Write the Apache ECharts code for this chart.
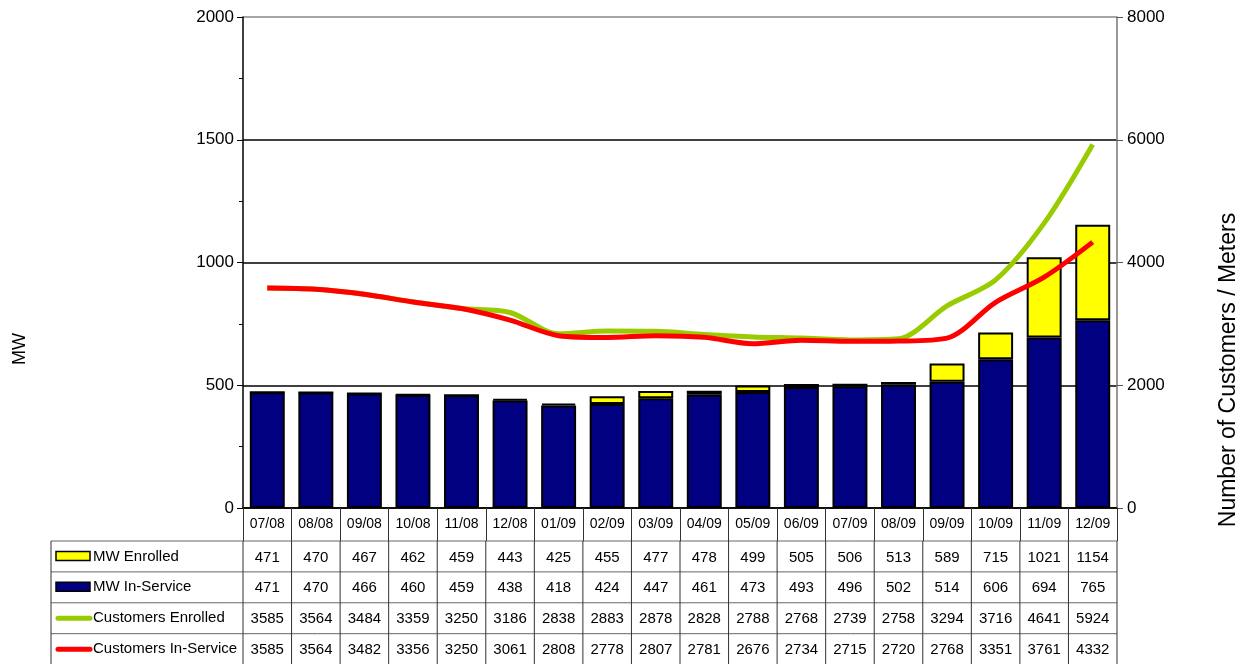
<!DOCTYPE html>
<html>
<head>
<meta charset="utf-8">
<script src="https://cdn.jsdelivr.net/npm/echarts@6/dist/echarts.min.js"></script>
<style>
  html, body { margin: 0; padding: 0; background: #fff; }
  #chart { width: 1251px; height: 664px; }
</style>
</head>
<body>
<div id="chart"></div>
<script>
const categories = ['07/08', '08/08', '09/08', '10/08', '11/08', '12/08', '01/09', '02/09', '03/09',
  '04/09', '05/09', '06/09', '07/09', '08/09', '09/09', '10/09', '11/09', '12/09'];
const mwEnrolled = [471, 470, 467, 462, 459, 443, 425, 455, 477, 478, 499, 505, 506, 513, 589, 715, 1021, 1154];
const mwInService = [471, 470, 466, 460, 459, 438, 418, 424, 447, 461, 473, 493, 496, 502, 514, 606, 694, 765];
const customersEnrolled = [3585, 3564, 3484, 3359, 3250, 3186, 2838, 2883, 2878, 2828, 2788, 2768, 2739, 2758, 3294, 3716, 4641, 5924];
const customersInService = [3585, 3564, 3482, 3356, 3250, 3061, 2808, 2778, 2807, 2781, 2676, 2734, 2715, 2720, 2768, 3351, 3761, 4332];

const FONT = 'Liberation Sans, Arial, sans-serif';
const NAVY = '#000080';
const YELLOW = '#FFFF00';
const GREEN = '#99CC00';
const RED = '#FF0000';

// yellow part of the bar = enrolled above in-service
const mwPending = mwEnrolled.map((v, i) => v - mwInService[i]);

const rows = [
  { label: 'MW Enrolled', values: mwEnrolled, kind: 'box', color: YELLOW },
  { label: 'MW In-Service', values: mwInService, kind: 'box', color: NAVY },
  { label: 'Customers Enrolled', values: customersEnrolled, kind: 'line', color: GREEN },
  { label: 'Customers In-Service', values: customersInService, kind: 'line', color: RED }
];

const chart = echarts.init(document.getElementById('chart'));

const option = {
  animation: false,
  textStyle: { fontFamily: FONT },
  grid: { left: 243, right: 134, top: 17, bottom: 156 },
  xAxis: {
    type: 'category',
    data: categories,
    axisLine: { lineStyle: { color: '#000', width: 1.5 } },
    axisTick: { show: true, interval: 0, length: 33, lineStyle: { color: '#333', width: 1 } },
    axisLabel: { interval: 0, margin: 9, fontSize: 14, color: '#000', fontFamily: FONT }
  },
  yAxis: [
    {
      type: 'value', min: 0, max: 2000, interval: 500,
      axisLine: { show: true, lineStyle: { color: '#000', width: 1.5 } },
      axisTick: { show: true, length: 6, lineStyle: { color: '#000' } },
      minorTick: { show: true, splitNumber: 2, length: 4, lineStyle: { color: '#000' } },
      axisLabel: { fontSize: 17, color: '#000', margin: 9, fontFamily: FONT, formatter: v => String(v) },
      splitLine: { show: true, lineStyle: { color: ['#000', '#000', '#000', '#000', '#888'], width: 1.5 } }
    },
    {
      type: 'value', min: 0, max: 8000, interval: 2000,
      axisLine: { show: true, lineStyle: { color: '#777', width: 1.5 } },
      axisTick: { show: true, length: 6, lineStyle: { color: '#555' } },
      axisLabel: { fontSize: 17, color: '#000', margin: 10, fontFamily: FONT, formatter: v => String(v) },
      splitLine: { show: false }
    }
  ],
  series: [
    {
      name: 'MW In-Service', type: 'bar', stack: 'mw', data: mwInService, barWidth: '72%',
      itemStyle: { color: NAVY, borderColor: '#000', borderWidth: 2 }
    },
    {
      name: 'MW Enrolled', type: 'bar', stack: 'mw', data: mwPending, barWidth: '72%',
      itemStyle: { color: YELLOW, borderColor: '#000', borderWidth: 2 }
    },
    {
      name: 'Customers Enrolled', type: 'line', yAxisIndex: 1, data: customersEnrolled,
      smooth: 0.3, symbol: 'none', z: 5, lineStyle: { color: GREEN, width: 5 }
    },
    {
      name: 'Customers In-Service', type: 'line', yAxisIndex: 1, data: customersInService,
      smooth: 0.3, symbol: 'none', z: 6, lineStyle: { color: RED, width: 5 }
    }
  ]
};

chart.setOption(option);

// data table under the axis, positioned from the x axis scale
const c0 = chart.convertToPixel({ xAxisIndex: 0 }, 0);
const c1 = chart.convertToPixel({ xAxisIndex: 0 }, 1);
const colW = c1 - c0;
const tableLeft = 51;
const axisLeft = c0 - colW / 2;
const axisRight = axisLeft + colW * categories.length;
const top0 = 541;
const rowH = 30.9;

const graphic = [];
const line = (x1, y1, x2, y2, color) => graphic.push({
  type: 'line', shape: { x1, y1, x2, y2 }, style: { stroke: color || '#333', lineWidth: 1 }, silent: true
});

for (let r = 0; r <= rows.length; r++) {
  line(tableLeft, top0 + r * rowH, axisRight, top0 + r * rowH, '#666');
}
line(tableLeft, top0, tableLeft, top0 + rows.length * rowH);
for (let k = 0; k <= categories.length; k++) {
  const x = axisLeft + k * colW;
  line(x, top0, x, top0 + rows.length * rowH);
}

rows.forEach((row, r) => {
  const cy = top0 + r * rowH + rowH / 2;
  if (row.kind === 'box') {
    graphic.push({
      type: 'rect', shape: { x: 56, y: cy - 5, width: 34, height: 9 },
      style: { fill: row.color, stroke: '#000', lineWidth: 1.5 }, silent: true
    });
  } else {
    graphic.push({
      type: 'line', shape: { x1: 58, y1: cy, x2: 90, y2: cy },
      style: { stroke: row.color, lineWidth: 5, lineCap: 'round' }, silent: true
    });
  }
  graphic.push({
    type: 'text', x: 93, y: cy,
    style: { text: row.label, font: '15px ' + FONT, fill: '#000', textVerticalAlign: 'middle', textAlign: 'left' },
    silent: true
  });
  row.values.forEach((v, i) => {
    const cx = chart.convertToPixel({ xAxisIndex: 0 }, i);
    graphic.push({
      type: 'text', x: cx, y: cy + 1,
      style: { text: String(v), font: '15px ' + FONT, fill: '#000', textAlign: 'center', textVerticalAlign: 'middle' },
      silent: true
    });
  });
});

// axis titles
graphic.push({
  type: 'text', x: 20, y: 349, rotation: Math.PI / 2,
  style: { text: 'MW', font: '18px ' + FONT, fill: '#000', textAlign: 'center', textVerticalAlign: 'middle' },
  silent: true
});
graphic.push({
  type: 'text', x: 1229, y: 370, rotation: Math.PI / 2,
  style: { text: 'Number of Customers / Meters', font: '23px ' + FONT, fill: '#000', textAlign: 'center', textVerticalAlign: 'middle' },
  silent: true
});

chart.setOption({ graphic: graphic });

window.onresize = function () {
  chart.resize();
};
</script>
</body>
</html>
